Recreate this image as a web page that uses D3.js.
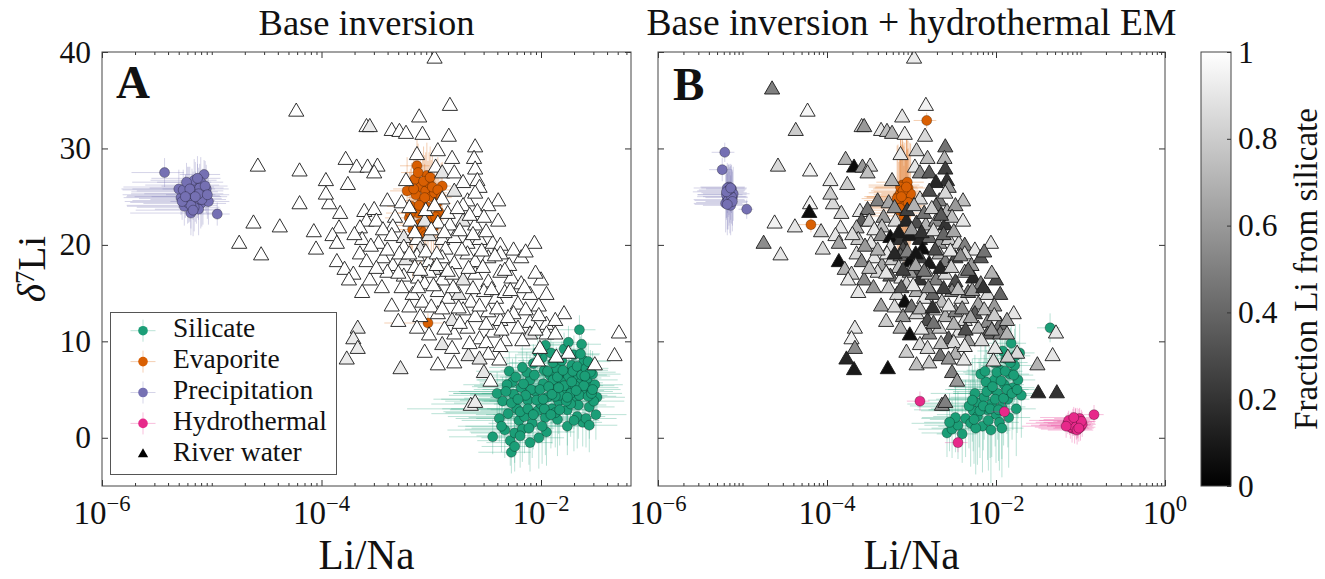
<!DOCTYPE html>
<html><head><meta charset="utf-8">
<script src="https://cdn.jsdelivr.net/npm/d3@7/dist/d3.min.js"></script>
<style>
html,body{margin:0;padding:0;background:#fff;}
svg text{font-family:"Liberation Serif","DejaVu Serif","Times New Roman",serif;fill:#111;}
</style></head><body>
<svg id="chart" width="1325" height="579"></svg>
<script>
// ---------------- DATA ----------------
// endmember posterior samples: [log10(Li/Na), d7Li, relative Li/Na error, d7Li error]
const silicateA = [
[-2.29,6.9,0.5,2.0],[-2.44,0.1,0.6,1.8],[-2.27,-1.5,0.5,2.2],[-1.65,11.2,0.4,1.5],[-1.63,9.7,0.5,2.0],[-1.76,1.2,0.6,3.0],[-1.62,1.6,0.5,2.5],[-1.49,4.2,0.8,2.0],
[-2.35,3.8,0.7,2.5],[-2.30,2.5,0.8,3.0],[-2.25,4.5,0.6,2.8],[-2.22,3.0,0.9,3.5],[-2.20,1.8,0.7,3.2],[-2.18,5.2,0.6,2.5],[-2.15,2.2,0.8,3.8],[-2.12,3.9,0.7,3.0],[-2.10,6.0,0.5,2.6],[-2.08,1.5,0.6,3.6],[-2.05,4.8,0.8,2.9],[-2.03,2.8,0.7,3.4],[-2.00,3.5,0.9,3.1],[-1.98,5.6,0.6,2.7],[-1.96,2.1,0.8,3.9],[-1.94,4.2,0.7,3.3],[-1.92,6.5,0.6,2.4],[-1.90,3.0,0.9,3.6],[-1.88,5.0,0.7,2.8],[-1.86,7.2,0.5,2.2],[-1.84,3.8,0.8,3.4],[-1.82,5.9,0.7,2.6],[-1.80,4.6,0.9,3.0],[-1.78,6.8,0.6,2.3],[-1.76,2.9,0.8,3.7],[-1.74,5.3,0.7,2.9],[-1.72,7.5,0.6,2.1],[-1.70,4.1,0.9,3.2],[-1.68,6.2,0.7,2.5],[-1.66,3.4,0.8,3.5],[-1.64,5.7,0.6,2.7],[-1.62,7.0,0.7,2.2],[-1.60,4.8,0.8,3.0],[-1.58,6.0,0.9,2.4],[-1.56,3.2,0.7,3.3],[-1.55,5.2,0.8,2.6],
[-2.38,2.0,0.6,2.4],[-2.33,0.8,0.7,2.9],[-2.28,-0.3,0.5,2.6],[-2.24,0.5,0.6,3.1],[-2.17,0.9,0.7,3.4],[-2.13,6.8,0.6,2.1],[-2.07,7.7,0.5,2.0],[-1.99,8.3,0.6,1.9],[-1.95,0.6,0.8,3.5],[-1.91,8.8,0.5,1.8],[-1.85,1.9,0.7,3.8],[-1.79,9.2,0.6,1.7],[-1.70,8.6,0.7,2.0],[-1.67,2.2,0.8,3.3],[-1.61,8.0,0.6,2.2],[-1.59,2.0,0.9,3.0],[-1.53,6.6,0.8,2.4],[-1.52,3.8,0.9,2.8],[-2.40,4.6,0.6,2.2],[-2.26,5.8,0.5,2.4],[-2.02,0.0,0.7,3.2],[-1.89,6.0,0.8,2.6],[-1.83,4.4,0.7,3.1],[-1.73,3.5,0.8,3.4],[-1.97,7.0,0.6,2.3],[-2.09,5.0,0.7,2.7],[-2.14,4.4,0.8,3.0],[-1.87,2.6,0.9,3.6],
[-2.31,5.5,0.6,2.8],[-2.27,3.6,0.7,3.0],[-2.23,6.3,0.5,2.4],[-2.19,2.7,0.8,3.6],[-2.16,5.6,0.6,2.6],[-2.11,1.0,0.7,3.8],[-2.06,6.5,0.6,2.5],[-2.04,3.9,0.8,3.2],[-2.01,5.0,0.7,2.9],[-1.99,1.2,0.8,3.9],[-1.97,3.0,0.7,3.3],[-1.93,5.3,0.8,2.8],[-1.91,2.4,0.7,3.5],[-1.89,7.8,0.6,2.1],[-1.87,4.3,0.8,3.0],[-1.85,6.3,0.7,2.6],[-1.83,2.9,0.9,3.7],[-1.81,8.0,0.6,2.0],[-1.79,5.4,0.7,2.8],[-1.77,3.8,0.8,3.3],[-1.75,6.4,0.7,2.5],[-1.73,4.6,0.9,3.1],[-1.71,6.9,0.6,2.3],[-1.69,5.4,0.8,2.8],[-1.67,7.4,0.6,2.1],[-1.65,4.4,0.8,3.2],[-1.63,6.5,0.7,2.4],[-1.61,5.4,0.9,2.9],[-1.59,7.2,0.6,2.2],[-1.57,4.3,0.8,3.0],[-1.55,6.8,0.7,2.3],[-1.54,4.6,0.9,2.7],[-1.51,5.5,0.8,2.5],[-2.36,1.2,0.6,2.7],[-2.32,4.8,0.7,2.6],[-2.21,4.0,0.8,3.1],[-2.19,0.2,0.6,3.3],[-2.12,3.0,0.8,3.5],[-2.07,2.4,0.7,3.6],[-1.98,4.0,0.9,3.2],[-1.94,6.9,0.6,2.3],[-1.90,4.5,0.8,3.0],[-1.84,5.2,0.7,2.9],[-1.80,7.0,0.6,2.2],[-1.76,4.2,0.8,3.2],[-1.72,5.8,0.7,2.7],[-1.68,4.9,0.8,2.9],[-1.64,8.7,0.5,1.8],[-1.60,6.4,0.7,2.4],[-1.57,7.9,0.6,2.0],[-1.53,5.0,0.8,2.6],[-2.03,8.9,0.5,1.8],[-2.17,7.3,0.5,2.2],[-1.96,9.6,0.4,1.7],[-1.75,9.9,0.4,1.7],[-2.24,-0.9,0.5,2.6],[-2.10,-0.5,0.6,3.0],[-1.70,1.8,0.7,3.2],[-1.56,1.3,0.8,2.8],[-1.50,2.4,0.9,2.6]
];
const evaporiteA = [
[-3.03,11.9,0.6,1.0],[-3.13,28.2,0.3,3.0],[-2.90,26.1,0.2,2.5],
[-3.10,26.0,0.25,3.5],[-3.05,25.6,0.2,4.0],[-3.00,25.0,0.3,3.8],[-3.08,24.6,0.35,4.2],[-3.14,25.2,0.25,3.6],[-3.18,24.0,0.4,4.5],[-3.02,26.4,0.2,3.2],[-2.97,25.4,0.3,3.0],[-3.12,23.3,0.4,5.0],[-3.06,23.8,0.3,4.6],[-2.95,24.3,0.35,4.0],[-3.20,22.8,0.4,4.8],[-3.10,22.2,0.35,5.5],[-3.00,22.6,0.3,5.0],[-3.15,26.8,0.25,3.2],[-3.04,27.2,0.2,3.4],[-2.93,23.4,0.4,4.2],[-3.22,25.6,0.3,3.5],[-3.09,21.4,0.4,5.0],[-2.98,21.8,0.35,5.0],
[-3.07,26.6,0.3,3.6],[-3.01,27.0,0.25,3.2],[-3.12,27.5,0.3,3.0],[-2.99,26.0,0.3,3.8],[-3.16,25.8,0.35,3.9],[-3.06,24.9,0.3,4.4],[-2.94,25.7,0.3,3.4],[-3.11,24.1,0.35,4.6],[-3.03,23.9,0.3,4.8],[-3.19,23.3,0.4,4.6],[-2.96,22.9,0.35,4.4],[-3.13,22.0,0.35,5.2],[-3.05,21.0,0.4,5.4],[-3.17,21.6,0.4,5.0],[-2.91,24.9,0.25,3.6]
];
const precipitationA = [
[-5.43,27.5,0.5,1.5],[-4.95,23.2,0.3,1.2],[-5.07,27.3,0.4,1.5],
[-5.17,25.1,0.75,2.5],[-5.20,24.6,0.7,2.2],[-5.13,25.6,0.72,2.8],[-5.24,25.3,0.68,2.0],[-5.10,24.3,0.7,2.6],[-5.15,26.2,0.65,2.4],[-5.22,26.0,0.74,2.1],[-5.08,25.0,0.66,2.9],[-5.28,24.9,0.7,1.8],[-5.12,23.7,0.6,2.7],[-5.19,23.3,0.72,2.3],[-5.05,25.8,0.6,2.5],[-5.25,24.0,0.7,2.0],[-5.16,26.7,0.6,2.2],[-5.03,24.5,0.55,2.4],[-5.30,25.8,0.7,2.0],[-5.10,26.5,0.6,2.6],[-5.21,25.2,0.75,2.9],
[-5.18,25.5,0.72,2.4],[-5.14,24.8,0.7,2.6],[-5.22,24.4,0.7,2.2],[-5.11,25.9,0.65,2.5],[-5.26,25.7,0.72,2.1],[-5.09,24.7,0.66,2.8],[-5.16,23.9,0.7,2.5],[-5.23,26.5,0.68,2.0],[-5.13,26.9,0.62,2.3],[-5.06,26.1,0.6,2.6],[-5.19,24.1,0.74,2.4],[-5.27,24.5,0.7,1.9],[-5.12,25.3,0.68,2.7],[-5.20,25.8,0.7,2.3],[-5.15,25.0,0.72,2.6],[-5.04,25.2,0.58,2.5],[-5.24,25.0,0.71,2.2],[-5.17,23.6,0.7,2.7]
];
const silicateB = [
[-1.36,11.4,0.3,1.5],
[-2.58,0.5,0.5,2.5],[-2.52,0.9,0.6,3.0],[-2.45,1.3,0.6,3.5],[-2.40,0.4,0.5,3.0],[-2.36,2.0,0.7,4.0],[-2.30,1.5,0.8,4.5],[-2.27,2.8,0.6,4.2],[-2.22,2.2,0.7,5.0],[-2.20,3.6,0.8,4.6],[-2.16,1.2,0.7,4.8],[-2.14,4.2,0.6,4.4],[-2.10,2.9,0.8,5.2],[-2.08,5.0,0.7,4.5],[-2.05,3.5,0.9,5.5],[-2.02,6.0,0.6,4.0],[-2.00,2.4,0.8,5.0],[-1.98,4.6,0.7,4.8],[-1.95,7.0,0.6,3.8],[-1.93,3.2,0.9,5.4],[-1.90,5.5,0.7,4.6],[-1.88,8.2,0.6,3.5],[-1.86,4.0,0.8,5.0],[-1.84,6.6,0.7,4.2],[-1.82,9.8,0.5,3.0],[-1.80,5.2,0.8,4.4],[-1.78,7.5,0.6,3.8],[-1.76,3.0,0.7,4.9],[-1.74,6.0,0.6,4.0],[-1.85,2.1,0.8,5.2],[-1.96,1.6,0.7,5.0],[-2.12,5.8,0.6,4.2],[-2.25,4.6,0.7,4.0],[-1.92,9.0,0.5,3.2],[-2.03,7.8,0.6,3.6],[-2.18,6.6,0.5,3.8],[-1.72,8.8,0.5,3.0],[-1.70,4.4,0.7,4.4],[-2.32,3.3,0.8,4.4],[-2.06,0.8,0.7,5.5],
[-2.28,3.9,0.7,4.3],[-2.24,1.0,0.7,4.8],[-2.19,2.8,0.8,4.9],[-2.15,3.3,0.7,4.6],[-2.11,4.8,0.6,4.3],[-2.07,3.0,0.8,5.1],[-2.04,5.3,0.7,4.4],[-2.01,4.0,0.8,4.9],[-1.99,6.8,0.6,3.9],[-1.97,2.9,0.9,5.3],[-1.94,5.9,0.7,4.3],[-1.91,4.1,0.8,4.9],[-1.89,6.9,0.6,3.8],[-1.87,5.0,0.8,4.6],[-1.83,7.8,0.6,3.6],[-1.81,4.6,0.8,4.8],[-1.79,6.5,0.7,4.0],[-1.77,8.5,0.5,3.3],[-1.75,5.0,0.7,4.5],[-2.09,1.8,0.7,5.2],[-2.26,1.9,0.7,4.6],[-2.48,2.1,0.6,3.6],[-2.55,1.6,0.5,3.0],[-1.93,1.0,0.8,5.1],[-2.13,6.9,0.6,3.8]
];
const evaporiteB = [
[-2.82,32.9,0.3,0.8],[-4.19,22.1,0.3,0.8],
[-3.16,25.0,0.6,5.4],[-3.14,24.6,0.62,5.2],[-3.13,25.4,0.58,5.6],[-3.12,24.2,0.6,5.0],[-3.11,25.8,0.55,5.3],[-3.10,24.9,0.63,5.5],[-3.09,24.4,0.6,5.8],[-3.08,25.5,0.57,5.1],[-3.07,23.9,0.61,5.4],[-3.06,25.2,0.59,5.7],[-3.05,24.7,0.56,5.2],[-3.04,25.9,0.6,4.9],[-3.03,24.1,0.58,5.3],[-3.02,25.1,0.55,5.5],[-3.15,23.6,0.62,5.0],[-3.11,26.2,0.6,4.8],[-3.07,23.3,0.64,5.6],[-3.05,26.5,0.57,4.7],[-3.09,23.0,0.6,5.2],[-3.13,26.0,0.58,5.0],
[-3.17,24.8,0.62,5.5],[-3.01,25.3,0.55,5.2],[-3.08,24.0,0.6,5.7],[-3.10,25.6,0.58,5.1],[-3.04,24.4,0.6,5.6],[-3.12,25.0,0.61,5.4],[-3.06,26.0,0.57,4.9],[-3.14,23.8,0.63,5.3]
];
const precipitationB = [
[-5.21,29.6,0.3,1.0],[-5.24,27.8,0.3,1.2],[-4.95,23.7,0.2,1.0],
[-5.16,25.0,0.58,3.0],[-5.14,25.4,0.55,2.8],[-5.18,24.7,0.6,3.1],[-5.12,24.9,0.52,2.9],[-5.17,25.6,0.57,2.7],[-5.15,24.4,0.6,3.2],[-5.19,25.2,0.55,2.6],[-5.13,25.8,0.5,2.5],[-5.20,24.3,0.58,3.0],[-5.11,25.3,0.56,2.8],[-5.16,26.0,0.54,2.4],[-5.18,25.9,0.6,2.6],[-5.14,24.1,0.53,3.1],
[-5.15,25.2,0.58,2.9],[-5.17,24.6,0.6,3.0],[-5.13,25.0,0.54,2.8],[-5.16,25.7,0.56,2.6],[-5.12,24.5,0.52,3.1],[-5.19,25.5,0.6,2.7],[-5.14,25.9,0.55,2.5],[-5.18,24.2,0.59,3.2]
];
const hydrothermalB = [
[-0.84,2.4,0.3,1.0],[-2.90,3.8,0.3,1.0],[-1.90,2.7,0.3,1.0],[-2.45,-0.5,0.3,1.0],
[-1.08,1.4,0.6,1.2],[-1.05,1.2,0.55,1.4],[-1.11,1.6,0.62,1.1],[-1.02,1.7,0.5,1.3],[-1.10,1.0,0.6,1.5],[-1.06,1.9,0.58,1.2],[-1.13,1.3,0.65,1.0],[-1.00,1.1,0.5,1.4],[-1.04,1.5,0.55,1.6],[-1.09,1.8,0.6,1.2],[-0.98,1.4,0.45,1.3],[-1.15,1.5,0.68,1.1],[-1.07,0.9,0.6,1.5],[-1.01,2.0,0.5,1.1],
[-1.12,1.1,0.62,1.2],[-1.03,1.3,0.52,1.3],[-1.06,1.6,0.58,1.4],[-1.09,1.3,0.6,1.1],[-1.04,0.8,0.55,1.5],[-1.14,1.8,0.66,1.0],[-0.99,1.7,0.48,1.2],[-1.08,2.1,0.6,1.1],[-1.17,1.2,0.7,1.2],[-1.02,1.0,0.5,1.4]
];
// river water: [log10(Li/Na), d7Li, fraction Li from silicate (A), fraction Li from silicate (B)]
const riverWater = [
[-2.97,39.3,1,.92],
[-4.23,33.8,1,.97],[-2.83,34.4,1,.95],[-3.11,33.2,1,.9],
[-3.59,32.2,1,.85],[-3.56,32.2,.92,.6],[-3.36,31.8,1,.9],[-3.29,31.7,1,.75],[-3.23,31.5,1,.7],[-3.08,31.4,1,.92],[-2.84,31.2,1,.85],
[-2.60,30.1,1,.45],[-3.13,29.3,1,.9],[-2.94,29.7,1,.8],[-2.81,28.9,1,.75],[-2.61,28.9,1,.7],
[-4.58,28.1,1,.85],[-4.20,27.6,1,.95],[-3.78,28.8,1,.7],[-3.68,28.0,1,.05],[-3.58,28.0,1,.6],[-3.49,28.1,1,.85],[-3.52,27.4,1,.75],[-2.96,28.0,1,.9],[-2.90,27.4,.9,.55],[-2.60,27.8,1,.25],[-2.58,26.6,1,.2],[-2.79,27.4,1,.35],
[-3.96,26.6,1,.9],[-3.76,26.2,1,.8],[-3.23,26.6,1,.7],[-2.71,26.4,1,.15],[-2.56,25.9,1,.6],[-2.90,24.7,1,.85],[-2.79,25.5,.9,.3],[-2.67,24.5,1,.5],[-2.60,25.3,1,.85],[-2.39,24.5,1,.75],
[-4.20,24.2,1,.95],[-3.93,24.2,1,.85],[-3.96,25.2,1,.8],[-3.40,24.5,1,.5],[-3.27,24.3,1,.65],[-2.71,24.0,1,.4],[-2.58,23.4,1,.7],[-2.48,24.0,1,.6],[-3.61,23.4,1,.9],[-3.52,23.6,1,.45],
[-4.62,22.2,1,.95],[-4.38,21.8,1,.9],[-3.83,23.2,1,.85],[-4.07,21.3,1,.8],[-3.84,21.7,1,.9],[-3.59,22.4,1,.35],[-3.50,22.4,1,.8],[-3.33,22.8,1,.6],[-3.19,22.4,1,.85],[-3.06,22.4,.9,.15],[-2.94,22.2,1,.3],[-2.83,22.0,1,.7],[-2.71,22.4,.9,.55],[-2.60,22.0,1,.2],[-2.52,22.8,1,.75],[-2.39,22.4,1,.9],[-3.65,21.7,1,.7],[-3.35,21.8,1,.75],[-3.44,21.5,1,.9],
[-4.75,20.1,1,.55],[-4.05,19.5,1,.85],[-3.90,20.9,1,.9],[-3.86,20.1,1,.65],[-3.63,20.5,1,.8],[-3.48,20.1,1,.9],[-3.36,20.9,1,.55],[-3.25,20.7,.9,.05],[-3.13,20.5,1,.2],[-3.02,20.9,.9,.1],[-2.90,20.5,1,.15],[-2.79,20.7,1,.4],[-2.67,20.1,1,.6],[-2.56,20.5,1,.8],[-2.44,20.1,1,.85],[-2.37,19.9,1,.5],[-2.25,19.4,1,.9],[-2.06,20.1,1,.9],[-3.25,19.7,1,.85],[-3.10,19.5,.9,.3],[-2.87,19.5,1,.05],
[-4.55,18.9,1,.9],[-3.86,18.2,1,.05],[-3.79,17.4,1,.7],[-3.65,19.0,1,.85],[-3.59,18.2,1,.55],[-3.44,18.6,1,.9],[-3.35,17.8,1,.65],[-3.23,18.4,.9,.8],[-3.13,18.8,1,.4],[-3.02,18.2,1,.05],[-2.90,18.6,1,.25],[-2.79,18.0,1,.1],[-2.67,19.0,1,.7],[-2.60,18.2,1,.5],[-2.48,18.6,1,.3],[-2.37,19.0,1,.85],[-2.29,17.8,1,.6],[-2.18,18.6,1,.35],[-2.14,19.2,1,.45],[-3.29,19.0,1,.9],[-3.15,17.6,1,.75],[-2.98,17.4,.9,.35],
[-3.71,16.9,1,.8],[-3.75,16.3,1,.9],[-3.56,16.3,1,.55],[-3.40,17.1,1,.85],[-3.25,16.7,1,.4],[-3.12,16.5,1,.9],[-3.02,17.1,1,.6],[-2.90,16.3,1,.2],[-2.81,16.9,1,.75],[-2.71,16.3,.9,.5],[-2.60,16.9,1,.85],[-2.48,16.1,1,.3],[-2.37,17.1,1,.7],[-2.27,16.5,1,.15],[-2.18,15.9,1,.5],[-2.00,16.3,1,.3],[-3.06,15.9,1,.8],
[-3.63,15.0,1,.9],[-3.36,13.6,1,.65],[-3.17,14.8,1,.85],[-3.08,14.0,1,.05],[-2.94,15.1,1,.7],[-2.85,14.4,1,.9],[-2.75,14.8,.9,.4],[-2.64,14.0,1,.75],[-2.52,15.1,1,.55],[-2.41,14.4,1,.9],[-2.33,15.0,1,.45],[-2.21,13.8,1,.65],[-2.10,14.8,1,.85],[-1.95,14.8,1,.4],[-2.02,13.6,1,.6],
[-3.10,12.5,1,.6],[-2.94,12.8,1,.85],[-2.81,12.1,.9,.3],[-2.71,13.2,1,.9],[-2.60,12.5,1,.7],[-2.48,13.0,1,.5],[-2.37,12.1,1,.85],[-2.25,12.8,1,.35],[-2.14,13.2,1,.75],[-2.10,11.9,1,.55],[-1.95,11.7,1,.45],[-1.79,12.8,1,.9],[-1.87,12.1,1,.65],
[-3.67,11.3,.92,.9],[-3.71,10.2,.92,.95],[-3.13,11.3,1,.7],[-3.02,10.6,1,.05],[-2.90,9.6,.9,.85],[-2.79,10.7,1,.55],[-2.67,11.3,1,.8],[-2.56,10.2,1,.35],[-2.44,10.9,1,.9],[-2.33,10.0,1,.6],[-2.21,11.3,1,.75],[-2.10,10.7,.9,.4],[-1.95,10.7,1,.5],[-1.87,10.7,1,.7],[-1.29,10.8,1,.9],[-2.50,9.8,1,.85],
[-3.67,9.2,.92,.55],[-3.77,8.1,.92,.15],[-3.06,8.8,1,.8],[-2.81,9.2,1,.85],[-2.66,8.45,.9,.45],[-2.48,8.6,1,.7],[-2.37,9.4,1,.9],[-2.01,9.2,1,.9],[-1.75,8.7,1,.85],[-1.86,8.3,1,.8],[-1.33,8.45,1,.9],[-2.56,8.1,.9,.6],
[-3.28,7.1,.92,.05],[-2.94,7.5,1,.75],[-2.79,7.7,1,.8],[-2.52,6.7,.9,.5],[-2.46,5.8,1,.6],[-2.03,7.9,1,.85],[-1.51,7.5,1,.7],
[-2.64,3.3,.92,.55],[-2.60,3.6,.92,.5],
[-3.20,23.8,1,.55],[-3.05,23.5,1,.25],[-2.97,24.0,1,.7],[-2.85,23.2,1,.45],[-2.76,23.7,1,.8],[-2.65,23.0,1,.35],[-3.15,21.2,1,.1],[-3.00,21.5,1,.6],[-2.88,21.2,1,.2],[-2.74,21.4,1,.85],[-2.62,21.0,1,.4],[-2.50,21.3,1,.65],[-3.40,19.4,1,.7],[-3.20,19.0,1,.15],[-3.05,19.2,1,.5],[-2.95,19.0,1,.08],[-2.72,19.4,1,.3],[-2.54,19.3,1,.9],[-2.42,18.8,1,.55],[-3.50,17.5,1,.75],[-3.30,17.0,1,.9],[-3.10,17.3,1,.25],[-2.95,17.8,1,.65],[-2.85,17.2,1,.45],[-2.66,17.5,1,.15],[-2.53,17.6,1,.8],[-2.33,17.3,1,.4],[-2.05,17.0,1,.7],[-3.45,15.5,1,.6],[-3.27,15.5,1,.8],[-3.12,15.5,1,.35],[-2.98,15.7,1,.9],[-2.80,15.5,1,.55],[-2.62,15.4,1,.25],[-2.45,15.3,1,.75],[-2.28,15.2,1,.6],[-2.15,15.5,1,.2],[-3.20,13.5,1,.85],[-3.00,13.5,1,.45],[-2.90,13.3,1,.7],[-2.75,13.4,1,.2],[-2.56,13.6,1,.9],[-2.40,13.3,1,.55],[-2.30,12.4,1,.65],[-2.02,12.6,1,.8],[-2.88,11.2,1,.9],[-2.74,11.8,1,.45],[-2.50,11.7,1,.7],[-2.36,11.1,1,.3],[-2.17,10.0,1,.85],[-2.05,11.1,1,.6],[-2.65,9.7,1,.75],[-2.38,8.0,1,.9],[-3.30,12.0,1,.8],[-3.55,19.8,1,.6],[-3.70,21.0,1,.85]
];
// river water only present in panel B: [log10(Li/Na), d7Li, fraction silicate]
const riverOnlyB = [[-4.65,36.1,.5],[-4.37,31.8,.8],[-4.21,23.3,.05],[-1.50,4.6,.15],[-1.28,4.6,.2],[-3.68,7.0,.1]];

const legendNames = ["Silicate","Evaporite","Precipitation","Hydrothermal","River water"];
const endmemberColors = ["#1b9e77","#d95f02","#7570b3","#e7298a"];
const yTickValues = [0,10,20,30,40];
const xExpA = [-6,-4,-2];
const xExpB = [-6,-4,-2,0];
const cbTickValues = [0,0.2,0.4,0.6,0.8,1];
const cbTickLabels = ["0","0.2","0.4","0.6","0.8","1"];

// ---------------- DRAW ----------------
const svg = d3.select("#chart");
const yTop = 52, yBot = 486;
const y = d3.scaleLinear().domain([-5,40]).range([yBot,yTop]);
const grey = d3.scaleLinear().domain([0,1]).range(["#000000","#ffffff"]);
const triPath = d3.symbol().type(d3.symbolTriangle).size(100)();
const triSmall = d3.symbol().type(d3.symbolTriangle).size(46)();
const defs = svg.append("defs");

function sizeFor(str, target, base, bold){
  const t = svg.append("text").attr("font-size",base).attr("font-weight",bold?"bold":null).text(str);
  const w = t.node().getComputedTextLength();
  t.remove();
  return w>0 ? base*target/w : base;
}
const fsTick = sizeFor("40", 31.5, 30);
const fsTitleA = sizeFor("Base inversion", 216, 34);
const fsTitleB = sizeFor("Base inversion + hydrothermal EM", 530, 34);
const fsLabel = sizeFor("Li/Na", 96, 36);
const fsLegend = sizeFor("Hydrothermal", 154, 27);
const fsCbLabel = sizeFor("Fraction Li from silicate", 322, 32);
const fsLetter = sizeFor("A", 34, 46, true);

const panels = [
 {id:"A", x0:102, x1:631, dom:[1e-6, Math.pow(10,-1.18)], title:"Base inversion", fsT:fsTitleA, exps:xExpA, yLabels:true, lx:116, ly:98,
  groups:[[0,silicateA],[1,evaporiteA],[2,precipitationA]], fi:2, extra:[]},
 {id:"B", x0:658, x1:1165, dom:[1e-6, 1], title:"Base inversion + hydrothermal EM", fsT:fsTitleB, exps:xExpB, yLabels:false, lx:673, ly:100,
  groups:[[0,silicateB],[1,evaporiteB],[2,precipitationB],[3,hydrothermalB]], fi:3, extra:riverOnlyB}
];

panels.forEach(p => {
  const x = d3.scaleLog().domain(p.dom).range([p.x0,p.x1]);
  const g = svg.append("g");
  const cid = "clip"+p.id;
  defs.append("clipPath").attr("id",cid).append("rect")
    .attr("x",p.x0).attr("y",yTop).attr("width",p.x1-p.x0).attr("height",yBot-yTop);
  const plot = g.append("g").attr("clip-path",`url(#${cid})`);

  p.groups.forEach(([ci,data]) => {
    const c = endmemberColors[ci];
    const eb = plot.append("g").attr("stroke",c).attr("stroke-opacity",0.3).attr("stroke-width",1);
    eb.append("g").selectAll("line").data(data).join("line")
      .attr("x1",d=>x(Math.pow(10,d[0])*(1-d[2]))).attr("x2",d=>x(Math.pow(10,d[0])*(1+d[2])))
      .attr("y1",d=>y(d[1])).attr("y2",d=>y(d[1]));
    eb.append("g").selectAll("line").data(data).join("line")
      .attr("x1",d=>x(Math.pow(10,d[0]))).attr("x2",d=>x(Math.pow(10,d[0])))
      .attr("y1",d=>y(d[1]-d[3])).attr("y2",d=>y(d[1]+d[3]));
    plot.append("g").selectAll("circle").data(data).join("circle")
      .attr("cx",d=>x(Math.pow(10,d[0]))).attr("cy",d=>y(d[1])).attr("r",5)
      .attr("fill",c).attr("stroke","#000").attr("stroke-opacity",0.4).attr("stroke-width",0.7);
  });

  const river = riverWater.map(d=>[d[0],d[1],d[p.fi]]).concat(p.extra);
  plot.append("g").selectAll("path").data(river).join("path")
    .attr("d",triPath)
    .attr("transform",d=>`translate(${x(Math.pow(10,d[0]))},${y(d[1])})`)
    .attr("fill",d=>grey(d[2])).attr("stroke","#1a1a1a").attr("stroke-width",0.9);

  const majors = p.exps.map(e=>Math.pow(10,e));
  const minors = [];
  for (let e=-6;e<=0;e++) for (let m=1;m<=9;m++){
    const v = m*Math.pow(10,e);
    if (v>=p.dom[0]*0.999 && v<=p.dom[1]*1.001 && !(m===1 && p.exps.includes(e))) minors.push(v);
  }
  const ax = g.append("g").attr("color","#333");
  ax.append("g").attr("transform",`translate(0,${yBot})`).call(d3.axisBottom(x).tickValues(majors).tickSize(-6).tickFormat(""));
  ax.append("g").attr("transform",`translate(0,${yBot})`).call(d3.axisBottom(x).tickValues(minors).tickSize(-3).tickFormat(""));
  ax.append("g").attr("transform",`translate(0,${yTop})`).call(d3.axisTop(x).tickValues(majors).tickSize(-6).tickFormat(""));
  ax.append("g").attr("transform",`translate(0,${yTop})`).call(d3.axisTop(x).tickValues(minors).tickSize(-3).tickFormat(""));
  const left = ax.append("g").attr("transform",`translate(${p.x0},0)`)
    .call(d3.axisLeft(y).tickValues(yTickValues).tickSize(-6).tickPadding(11).tickFormat(p.yLabels? d3.format("d") : ""));
  left.attr("font-family",null).attr("font-size",null);
  left.selectAll("text").attr("font-size",fsTick).attr("fill","#111");
  ax.append("g").attr("transform",`translate(${p.x1},0)`).call(d3.axisRight(y).tickValues(yTickValues).tickSize(-6).tickFormat(""));
  ax.selectAll(".domain").remove();
  g.append("rect").attr("x",p.x0).attr("y",yTop).attr("width",p.x1-p.x0).attr("height",yBot-yTop)
    .attr("fill","none").attr("stroke","#444").attr("stroke-width",1);

  g.append("g").selectAll("text").data(p.exps).join("text")
    .attr("x",e=>x(Math.pow(10,e))).attr("y",524).attr("text-anchor","middle").attr("font-size",fsTick*1.05)
    .each(function(e){
      const t = d3.select(this);
      t.append("tspan").text("10");
      t.append("tspan").attr("dy",-13).attr("font-size",fsTick*0.72).text(e<0 ? "\u2212"+(-e) : String(e));
    });

  g.append("text").attr("x",(p.x0+p.x1)/2).attr("y",35).attr("text-anchor","middle").attr("font-size",p.fsT).text(p.title);
  g.append("text").attr("x",p.lx).attr("y",p.ly).attr("font-size",fsLetter).attr("font-weight","bold").text(p.id);
  g.append("text").attr("x",(p.x0+p.x1)/2).attr("y",569).attr("text-anchor","middle").attr("font-size",fsLabel).text("Li/Na");

  if (p.id==="A") {
    const yl = g.append("text").attr("transform","translate(45,269) rotate(-90)").attr("text-anchor","middle").attr("font-size",fsLabel*0.95);
    yl.append("tspan").attr("font-style","italic").text("\u03b4");
    yl.append("tspan").attr("dy",-11).attr("font-size",fsLabel*0.65).text("7");
    yl.append("tspan").attr("dy",11).text("Li");
    const lg = g.append("g");
    lg.append("rect").attr("x",110.5).attr("y",312.5).attr("width",226).attr("height",162)
      .attr("fill","#fff").attr("stroke","#555").attr("stroke-width",1);
    const rows = lg.selectAll("g.row").data(legendNames).join("g").attr("class","row")
      .attr("transform",(d,i)=>`translate(143,${330.7+i*30.9})`);
    rows.each(function(d,i){
      const r = d3.select(this);
      if (i<4) {
        r.append("line").attr("x1",-12.5).attr("x2",12.5).attr("stroke",endmemberColors[i]).attr("stroke-opacity",0.3);
        r.append("line").attr("y1",-11).attr("y2",11).attr("stroke",endmemberColors[i]).attr("stroke-opacity",0.3);
        r.append("circle").attr("r",4.8).attr("fill",endmemberColors[i]);
      } else {
        r.append("path").attr("d",triSmall).attr("fill","#000");
      }
      r.append("text").attr("x",30).attr("y",6.5).attr("font-size",fsLegend).text(d);
    });
  }
});

// colorbar
const cbX = 1201, cbW = 30;
const cScale = d3.scaleLinear().domain([0,1]).range([yBot,yTop]);
const grad = defs.append("linearGradient").attr("id","cbgrad").attr("x1",0).attr("y1",1).attr("x2",0).attr("y2",0);
grad.append("stop").attr("offset","0%").attr("stop-color",grey(0));
grad.append("stop").attr("offset","100%").attr("stop-color",grey(1));
svg.append("rect").attr("x",cbX).attr("y",yTop).attr("width",cbW).attr("height",yBot-yTop)
  .attr("fill","url(#cbgrad)").attr("stroke","#444").attr("stroke-width",1);
const cbAx = svg.append("g").attr("transform",`translate(${cbX+cbW},0)`).attr("color","#333")
  .call(d3.axisRight(cScale).tickValues(cbTickValues).tickSize(-4).tickPadding(7).tickFormat((d,i)=>cbTickLabels[i]));
cbAx.attr("font-family",null).attr("font-size",null);
cbAx.select(".domain").remove();
cbAx.selectAll("text").attr("font-size",fsTick).attr("fill","#111");
svg.append("text").attr("transform","translate(1317,269) rotate(-90)").attr("text-anchor","middle")
  .attr("font-size",fsCbLabel).text("Fraction Li from silicate");
</script>
</body></html>
